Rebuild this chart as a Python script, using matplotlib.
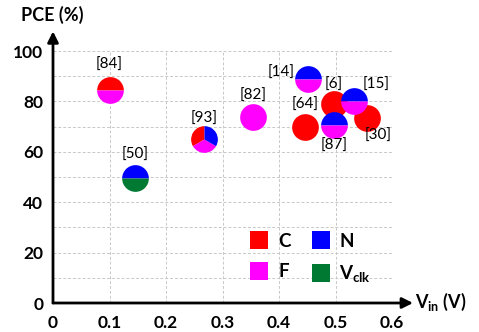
import matplotlib
matplotlib.use("Agg")
import matplotlib.pyplot as plt
import matplotlib.path as mpath
from matplotlib.lines import Line2D

plt.rcParams['font.family'] = ['Lato', 'DejaVu Sans']
plt.rcParams['mathtext.fontset'] = 'custom'
plt.rcParams['mathtext.rm'] = 'Lato'
plt.rcParams['mathtext.bf'] = 'Lato:bold'

# data
refs = ['[84]', '[50]', '[93]', '[82]', '[64]', '[6]', '[30]', '[87]', '[15]', '[14]']
vin = [0.10, 0.145, 0.267, 0.354, 0.446, 0.497, 0.556, 0.498, 0.533, 0.451]
pce = [84.5, 49.6, 65.0, 74.0, 70.0, 79.0, 73.4, 70.6, 80.0, 89.0]
kinds = [('C', 'F'), ('N', 'V'), ('C', 'F', 'N'), ('F',), ('C',), ('C',),
         ('C',), ('N', 'F'), ('N', 'F'), ('N', 'F')]

COLORS = {'C': '#ff0000', 'N': '#0000ff', 'F': '#ff00ff', 'V': '#007a33'}
LEGEND_LABELS = {'C': 'C', 'N': 'N', 'F': 'F', 'V': r'$\mathbf{V_{clk}}$'}

# label offsets in points (layout only)
label_offset = {'[84]': (0, 18), '[50]': (0, 17), '[93]': (0, 15), '[82]': (0, 15),
                '[64]': (0, 16), '[6]': (0, 14), '[30]': (8, -13), '[87]': (0, -15),
                '[15]': (16, 12), '[14]': (-19, 4)}

fig = plt.figure(figsize=(4.79, 3.32), dpi=100)
ax = fig.add_axes([53 / 479, 1 - 303 / 332, 339 / 479, 252 / 332])
ax.set_xlim(0, 0.6)
ax.set_ylim(0, 100)

ax.set_xticks([0, 0.1, 0.2, 0.3, 0.4, 0.5, 0.6])
ax.set_xticklabels(['0', '0.1', '0.2', '0.3', '0.4', '0.5', '0.6'])
ax.set_yticks([0, 20, 40, 60, 80, 100])
ax.set_yticks([10, 30, 50, 70, 90], minor=True)
ax.tick_params(which='both', length=0)
ax.tick_params(axis='x', pad=9, labelsize=12.5)
ax.tick_params(axis='y', pad=7, labelsize=12.5)
for lab in ax.get_xticklabels() + ax.get_yticklabels():
    lab.set_fontweight('bold')
ax.grid(True, which='both', color='#c8c8c8', linestyle=(0, (3, 2)), linewidth=0.7)
ax.set_axisbelow(True)
for s in ax.spines.values():
    s.set_visible(False)

# axes with arrows
ax.annotate('', xy=(0, 1.078), xytext=(0, 0), xycoords='axes fraction',
            arrowprops=dict(arrowstyle='-|>', color='black', lw=2, mutation_scale=16,
                            shrinkA=0, shrinkB=0), annotation_clip=False)
ax.annotate('', xy=(1.062, 0), xytext=(0, 0), xycoords='axes fraction',
            arrowprops=dict(arrowstyle='-|>', color='black', lw=2, mutation_scale=16,
                            shrinkA=0, shrinkB=0), annotation_clip=False)

fig.text(52 / 479, 1 - 15 / 332, 'PCE (%)', ha='center', va='center',
         fontsize=13, fontweight='bold')
fig.text(415 / 479, 1 - 302 / 332, r'$\mathbf{V_{in}}$ (V)', ha='left', va='center',
         fontsize=13, fontweight='bold')

SIZE = 370
for r, x, y, k in zip(refs, vin, pce, kinds):
    n = len(k)
    start = 0 if n == 2 else 90
    step = 360 / n
    for i, c in enumerate(k):
        if n == 1:
            marker = 'o'
        else:
            marker = mpath.Path.wedge(start + i * step, start + (i + 1) * step)
        ax.scatter([x], [y], s=SIZE, marker=marker, color=COLORS[c],
                   linewidths=0, zorder=3, clip_on=False)
    dx, dy = label_offset[r]
    ax.annotate(r, (x, y), xytext=(dx, dy), textcoords='offset points',
                ha='center', va='center', fontsize=11, zorder=4)

handles = [Line2D([], [], marker='s', linestyle='none', markersize=13.5,
                  markerfacecolor=COLORS[k], markeredgewidth=0) for k in ['C', 'F', 'N', 'V']]
labels = [LEGEND_LABELS[k] for k in ['C', 'F', 'N', 'V']]
leg = fig.legend(handles, labels, ncol=2, loc='upper left',
                 bbox_to_anchor=(250 / 479, 1 - 233 / 332), frameon=False,
                 prop={'weight': 'bold', 'size': 13.5}, borderpad=0, borderaxespad=0,
                 handlelength=1.0, handletextpad=0.5, columnspacing=1.1, labelspacing=0.7)

fig.savefig('out.png', dpi=100)
